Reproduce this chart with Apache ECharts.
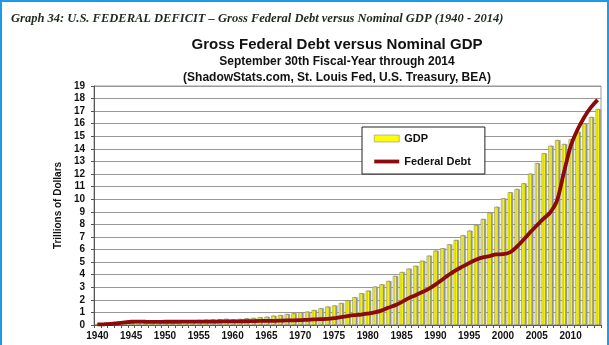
<!DOCTYPE html>
<html>
<head>
<meta charset="utf-8">
<script src="https://cdn.jsdelivr.net/npm/echarts@6/dist/echarts.min.js"></script>
<style>
html,body{margin:0;padding:0;background:#fff;}
#chart{position:absolute;left:0;top:0;width:609px;height:345px;}
#frame{position:absolute;left:0;top:0;width:605px;height:345px;border-left:2px solid #1a9be8;border-top:2px solid #1a9be8;border-right:2px solid #1a9be8;pointer-events:none;box-sizing:content-box;}
</style>
</head>
<body>
<div id="chart"></div>
<div id="frame"></div>
<script>
const years = [];
for (let y = 1940; y <= 2014; y++) years.push(String(y));

const gdp = [
  0.10, 0.11, 0.14, 0.18, 0.20, 0.21, 0.22, 0.23, 0.26, 0.27,
  0.27, 0.32, 0.35, 0.37, 0.38, 0.40, 0.43, 0.45, 0.46, 0.49,
  0.45, 0.48, 0.53, 0.56, 0.61, 0.66, 0.74, 0.79, 0.87, 0.93,
  1.01, 1.06, 1.19, 1.33, 1.46, 1.55, 1.75, 1.96, 2.20, 2.52,
  2.73, 3.05, 3.23, 3.50, 3.90, 4.21, 4.48, 4.71, 5.11, 5.51,
  5.91, 6.10, 6.41, 6.76, 7.13, 7.50, 7.95, 8.43, 8.93, 9.40,
  10.07, 10.55, 10.81, 11.26, 12.03, 12.87, 13.65, 14.25, 14.70, 14.39,
  14.76, 15.37, 16.03, 16.53, 17.17
];

const debt = [
  0.05, 0.06, 0.08, 0.14, 0.20, 0.26, 0.27, 0.26, 0.25, 0.25,
  0.26, 0.26, 0.26, 0.27, 0.27, 0.27, 0.27, 0.27, 0.28, 0.29,
  0.29, 0.29, 0.30, 0.31, 0.32, 0.32, 0.33, 0.34, 0.37, 0.37,
  0.38, 0.41, 0.44, 0.47, 0.48, 0.54, 0.63, 0.71, 0.78, 0.83,
  0.91, 1.00, 1.14, 1.37, 1.56, 1.82, 2.12, 2.35, 2.60, 2.87,
  3.21, 3.60, 4.00, 4.35, 4.64, 4.92, 5.18, 5.37, 5.48, 5.61,
  5.63, 5.77, 6.20, 6.76, 7.35, 7.91, 8.45, 8.95, 9.90, 12.10,
  14.20, 15.50, 16.50, 17.30, 17.90
];

const yTicks = { min: 0, max: 19, interval: 1 };

const chart = echarts.init(document.getElementById('chart'), null, { renderer: 'canvas' });
const ff = '"Liberation Sans", Arial, sans-serif';
chart.setOption({
  animation: false,
  backgroundColor: '#fff',
  textStyle: { fontFamily: ff },
  title: [
    {
      text: 'Graph 34: U.S. FEDERAL DEFICIT \u2013 Gross Federal Debt versus Nominal GDP (1940 - 2014)',
      left: 6, top: 7,
      textStyle: { fontFamily: '"Liberation Serif", "Times New Roman", serif', fontStyle: 'italic', fontWeight: 'bold', fontSize: 12.5, color: '#1d2a1d' }
    },
    {
      text: 'Gross Federal Debt versus Nominal GDP',
      left: 332, top: 32, textAlign: 'center',
      textStyle: { fontFamily: ff, fontWeight: 'bold', fontSize: 15, color: '#111' }
    },
    {
      text: 'September 30th Fiscal-Year through 2014',
      left: 332, top: 51, textAlign: 'center',
      textStyle: { fontFamily: ff, fontWeight: 'bold', fontSize: 12, color: '#111' }
    },
    {
      text: '(ShadowStats.com, St. Louis Fed, U.S. Treasury, BEA)',
      left: 332, top: 67, textAlign: 'center',
      textStyle: { fontFamily: ff, fontWeight: 'bold', fontSize: 12, color: '#111' }
    }
  ],
  legend: {
    orient: 'vertical',
    left: 362, top: 127,
    padding: [5, 14, 6, 12],
    itemWidth: 25, itemHeight: 7, itemGap: 10,
    borderColor: '#222', borderWidth: 1,
    backgroundColor: '#fff',
    textStyle: { fontFamily: ff, fontWeight: 'bold', fontSize: 11, color: '#111', lineHeight: 13 },
    data: [
      { name: 'GDP', icon: 'rect', itemStyle: { color: '#ffff00', borderColor: '#777', borderWidth: 0.5, shadowBlur: 0, shadowOffsetX: 0 } },
      { name: 'Federal Debt', icon: 'path://M0,0 L25,0 L25,3.8 L0,3.8 Z', itemStyle: { color: '#8b0a0a', borderWidth: 0 } }
    ]
  },
  grid: {
    left: 94, right: 8, top: 86, bottom: 20,
    show: true, borderColor: '#999', borderWidth: 1, backgroundColor: 'transparent'
  },
  xAxis: {
    type: 'category',
    data: years,
    boundaryGap: true,
    axisLine: { lineStyle: { color: '#555', width: 1 } },
    axisTick: { show: true, interval: 0, length: 3, lineStyle: { color: '#555' } },
    axisLabel: { interval: 4, margin: 6, fontFamily: ff, fontWeight: 'bold', fontSize: 10, color: '#111' },
    splitLine: { show: false }
  },
  yAxis: {
    type: 'value',
    min: yTicks.min, max: yTicks.max, interval: yTicks.interval,
    name: 'Trillions of Dollars',
    nameLocation: 'middle',
    nameGap: 29,
    nameTextStyle: { fontFamily: ff, fontWeight: 'bold', fontSize: 10, color: '#111' },
    axisLine: { show: true, lineStyle: { color: '#555', width: 1 } },
    axisTick: { show: true, length: 3, lineStyle: { color: '#555' } },
    axisLabel: { margin: 9, fontFamily: ff, fontWeight: 'bold', fontSize: 10, color: '#111' },
    splitLine: { show: true, lineStyle: { color: '#999', width: 1 } }
  },
  series: [
    {
      name: 'GDP',
      type: 'bar',
      data: gdp,
      barWidth: 4,
      itemStyle: { color: '#ffff00', borderColor: '#777', borderWidth: 0.5, shadowColor: '#9a9a9a', shadowOffsetX: 1.5, shadowBlur: 0 },
      z: 2
    },
    {
      name: 'Federal Debt',
      type: 'line',
      data: debt,
      smooth: 0.3,
      symbol: 'none',
      lineStyle: { color: '#8b0a0a', width: 3.8 },
      itemStyle: { color: '#8b0a0a' },
      z: 3
    }
  ]
});
</script>
</body>
</html>
